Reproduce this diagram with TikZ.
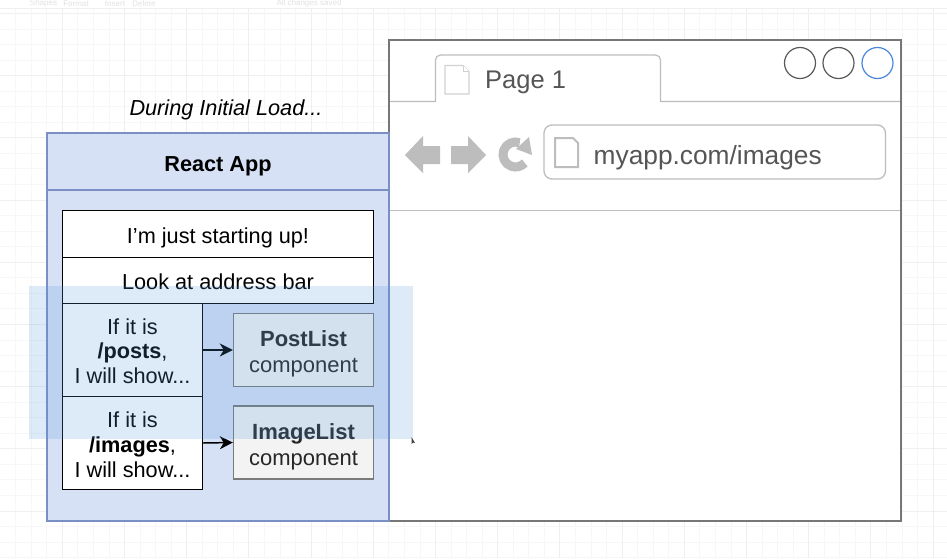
\documentclass[tikz,border=0pt]{standalone}
\usepackage{fontspec}
\setmainfont{Liberation Sans}
\usetikzlibrary{arrows.meta}
\definecolor{gridmin}{HTML}{F7F7F7}
\definecolor{gridmaj}{HTML}{EFEFEF}
\definecolor{ghost}{HTML}{E2E2E2}
\definecolor{appfill}{HTML}{D6E1F6}
\definecolor{appline}{HTML}{7A90C4}
\definecolor{chrome}{HTML}{BDBDBD}
\definecolor{frameline}{HTML}{777777}
\definecolor{pagetxt}{HTML}{555555}
\definecolor{compfill}{HTML}{F3F3F3}
\definecolor{compline}{HTML}{7A7A7A}
\definecolor{sel}{HTML}{5596DC}
\definecolor{bluecirc}{HTML}{4A86DC}
\newcommand{\dn}[1]{\rule{0pt}{\dimexpr 16pt+#1pt*2\relax}}
\tikzset{
  rowbox/.style={draw=black,line width=1.5pt,fill=white,inner sep=0pt,align=center,font=\fontsize{21.7}{24.7}\selectfont},
  compbox/.style={draw=compline,line width=1.4pt,fill=compfill,inner sep=0pt,align=center,text=black!85,font=\fontsize{22}{26}\selectfont},
  link/.style={-{Stealth[length=13pt,width=13pt,inset=4pt]},line width=1.5pt,black},
  ctl/.style={circle,draw=black!65,line width=1.2pt,minimum size=31pt,inner sep=0pt},
  docicon/.style={draw=chrome!70,line width=1.4pt,fill=white,line join=miter},
}
\begin{document}
\begin{tikzpicture}[x=1pt,y=-1pt]
\useasboundingbox (0,0) rectangle (947,558);
\fill[white] (0,0) rectangle (947,558);
% grid
\foreach \i in {1,...,60}{\draw[gridmin,line width=.7pt] ({15.55*\i},0) -- ({15.55*\i},558);}
\foreach \i in {0,...,35}{\draw[gridmin,line width=.7pt] (0,{13.3+15.55*\i}) -- (947,{13.3+15.55*\i});}
\foreach \i in {1,...,15}{\draw[gridmaj,line width=.7pt] ({62.2*\i},0) -- ({62.2*\i},558);}
\foreach \i in {0,...,8}{\draw[gridmaj,line width=.7pt] (0,{13.3+62.2*\i}) -- (947,{13.3+62.2*\i});}
% ghost toolbar
\fill[white] (0,0) rectangle (947,8);
\begin{scope}[every node/.style={text=ghost,font=\fontsize{8}{9}\selectfont,inner sep=0pt}]
\node (gs) at (43.5,3.5) {Shapes};
\node (gf) at (76,3.5) {Format};
\node (gi) at (115,3.5) {Insert};
\node (gd) at (144,3.5) {Delete};
\node (gc) at (309,3.5) {All changes saved};
\end{scope}
\draw[gridmaj] (0,8.5) -- (947,8.5);
% browser
\fill[white] (389,40) rectangle (901,521);
\draw[chrome,line width=1.2pt] (389,101.5) -- (435.5,101.5) -- (435.5,60) arc[start angle=180,end angle=270,radius=5] -- (655.5,55) arc[start angle=-90,end angle=0,radius=5] -- (660.5,101.5) -- (901,101.5);
\draw[chrome,line width=1.2pt] (389,210.5) -- (901,210.5);
\draw[docicon] (445,65.5) -- (463,65.5) -- (469,71.5) -- (469,94) -- (445,94) -- cycle;
\draw[docicon,line width=.8pt] (463,65.5) -- (463,71.5) -- (469,71.5);
\node[inner sep=0pt,anchor=west,text=pagetxt,font=\fontsize{25.5}{30}\selectfont] (tab) at (485,82.5) {Page 1};
\node[ctl] (c1) at (800,63) {};
\node[ctl] (c2) at (838.5,63) {};
\node[ctl,draw=bluecirc] (c3) at (877.5,63) {};
\fill[chrome] (405,155) -- (423,136) -- (423,146) -- (440,146) -- (440,164) -- (423,164) -- (423,173) -- cycle;
\fill[chrome] (486,155) -- (468,136) -- (468,146) -- (451,146) -- (451,164) -- (468,164) -- (468,173) -- cycle;
\draw[chrome,line width=9pt] (515.5,154.5) ++(-70:12.5) arc[start angle=-70,end angle=-318,radius=12.5];
\fill[chrome] (516,149) -- (529,137) -- (532,155) -- cycle;
\draw[chrome,line width=1.3pt,fill=white,rounded corners=8pt] (544,125) rectangle (885.5,179);
\draw[chrome,line width=2pt,fill=white] (555,138) -- (573,138) -- (578,143) -- (578,167) -- (555,167) -- cycle;
\node[inner sep=0pt,anchor=west,text=pagetxt,font=\fontsize{26.3}{30}\selectfont] (url) at (593.5,157.5) {myapp.com/images};
\draw[frameline,line width=1.4pt] (389,40) rectangle (901,521);
% react app
\node[inner sep=0pt,font=\itshape\fontsize{21.7}{25}\selectfont] (during) at (226,110) {During Initial Load...};
\draw[appline,line width=1.3pt,fill=appfill] (47,133) rectangle (389,521);
\draw[appline,line width=1.3pt] (47,190) -- (389,190);
\node[inner sep=0pt,font=\bfseries\fontsize{21.7}{25}\selectfont] (app) at (218,166) {React App};
\node[rowbox,minimum width=311pt,minimum height=47pt] (r1) at (218,234) {\dn{3.5}I\char39 m just starting up!};
\node[rowbox,minimum width=311pt,minimum height=46pt] (r2) at (218,280.5) {\dn{1}Look at address bar};
\node[rowbox,minimum width=140pt,minimum height=93pt] (r3) at (132.5,350) {\dn{1}If it is\\\textbf{/posts},\\I will show...};
\node[rowbox,minimum width=140pt,minimum height=93pt] (r4) at (132.5,443) {\dn{1.5}If it is\\\textbf{/images},\\I will show...};
\node[compbox,minimum width=140pt,minimum height=73pt] (p) at (303.5,350) {\dn{4}\textbf{PostList}\\component};
\node[compbox,minimum width=140pt,minimum height=73pt] (i) at (303.5,442.5) {\dn{4}\textbf{ImageList}\\component};
\draw[link] (r3.east) -- (p.west);
\draw[link] (r4.east) -- (i.west);
% selection
\fill[sel,fill opacity=.2] (29,286) rectangle (413,439);
% cursor
\fill[black!75] (411.5,437) -- (411.5,444) -- (413,442.5) -- (415,443) -- cycle;
\end{tikzpicture}
\end{document}
